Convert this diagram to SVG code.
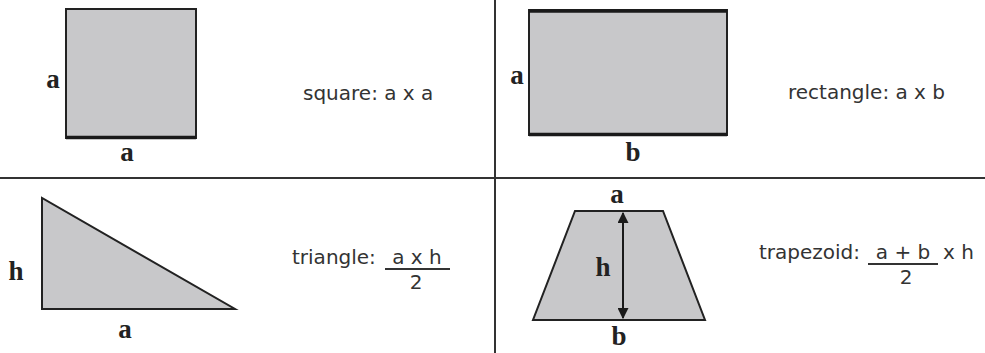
<svg xmlns="http://www.w3.org/2000/svg" width="985" height="353" viewBox="0 0 985 353">
<defs>
<style>
.shape{fill:#c8c8ca;stroke:#222;stroke-width:2}
.edge{stroke:#1a1a1a;stroke-width:3.5;fill:none}
.lbl{font-family:"Liberation Serif","Times New Roman",serif;font-weight:bold;font-size:27px;fill:#222;text-anchor:middle}
.f{font-family:"DejaVu Sans",Verdana,sans-serif;font-size:20px;fill:#333}
.fm{font-family:"DejaVu Sans",Verdana,sans-serif;font-size:20px;fill:#333;text-anchor:middle}
.div{stroke:#333;stroke-width:2}
.bar{stroke:#333;stroke-width:1.8}
</style>
<marker id="ah" viewBox="0 0 10 10" refX="9" refY="5" markerWidth="11" markerHeight="11" markerUnits="userSpaceOnUse" orient="auto-start-reverse">
<path d="M0,0 L10,5 L0,10 z" fill="#1a1a1a"/>
</marker>
</defs>
<rect width="985" height="353" fill="#fff"/>
<g id="dividers">
<line class="div" x1="0" y1="178" x2="985" y2="178"/>
<line class="div" x1="495" y1="0" x2="495" y2="353"/>
</g>
<g id="square">
<rect class="shape" x="66" y="9" width="130" height="129"/>
<line class="edge" x1="66" y1="137.5" x2="196" y2="137.5"/>
<text class="lbl" x="53" y="88">a</text>
<text class="lbl" x="127" y="161">a</text>
<text class="f" x="303" y="100">square: a x a</text>
</g>
<g id="rectangle">
<rect class="shape" x="529" y="10" width="198" height="125"/>
<line class="edge" x1="529" y1="11" x2="727" y2="11"/>
<line class="edge" x1="529" y1="134.5" x2="727" y2="134.5"/>
<text class="lbl" x="517" y="84">a</text>
<text class="lbl" x="633" y="161">b</text>
<text class="f" x="788" y="99">rectangle: a x b</text>
</g>
<g id="triangle">
<polygon class="shape" points="42,198 42,309 235,309"/>
<text class="lbl" x="16" y="280">h</text>
<text class="lbl" x="125" y="338">a</text>
<text class="f" x="292" y="264">triangle:</text>
<text class="fm" x="417" y="264">a x h</text>
<line class="bar" x1="385" y1="269" x2="450" y2="269"/>
<text class="fm" x="416" y="289">2</text>
</g>
<g id="trapezoid">
<polygon class="shape" points="575,211 663,211 705,320 533,320"/>
<text class="lbl" x="617" y="203">a</text>
<text class="lbl" x="619" y="345">b</text>
<text class="lbl" x="603" y="276">h</text>
<text class="f" x="759" y="259">trapezoid:</text>
<text class="fm" x="903" y="259">a + b</text>
<line class="bar" x1="868" y1="264" x2="938" y2="264"/>
<text class="fm" x="906" y="284">2</text>
<text class="f" x="943" y="259">x h</text>
</g>
<g id="connectors">
<line x1="623" y1="213" x2="623" y2="318" stroke="#1a1a1a" stroke-width="2" marker-start="url(#ah)" marker-end="url(#ah)"/>
</g>
</svg>
